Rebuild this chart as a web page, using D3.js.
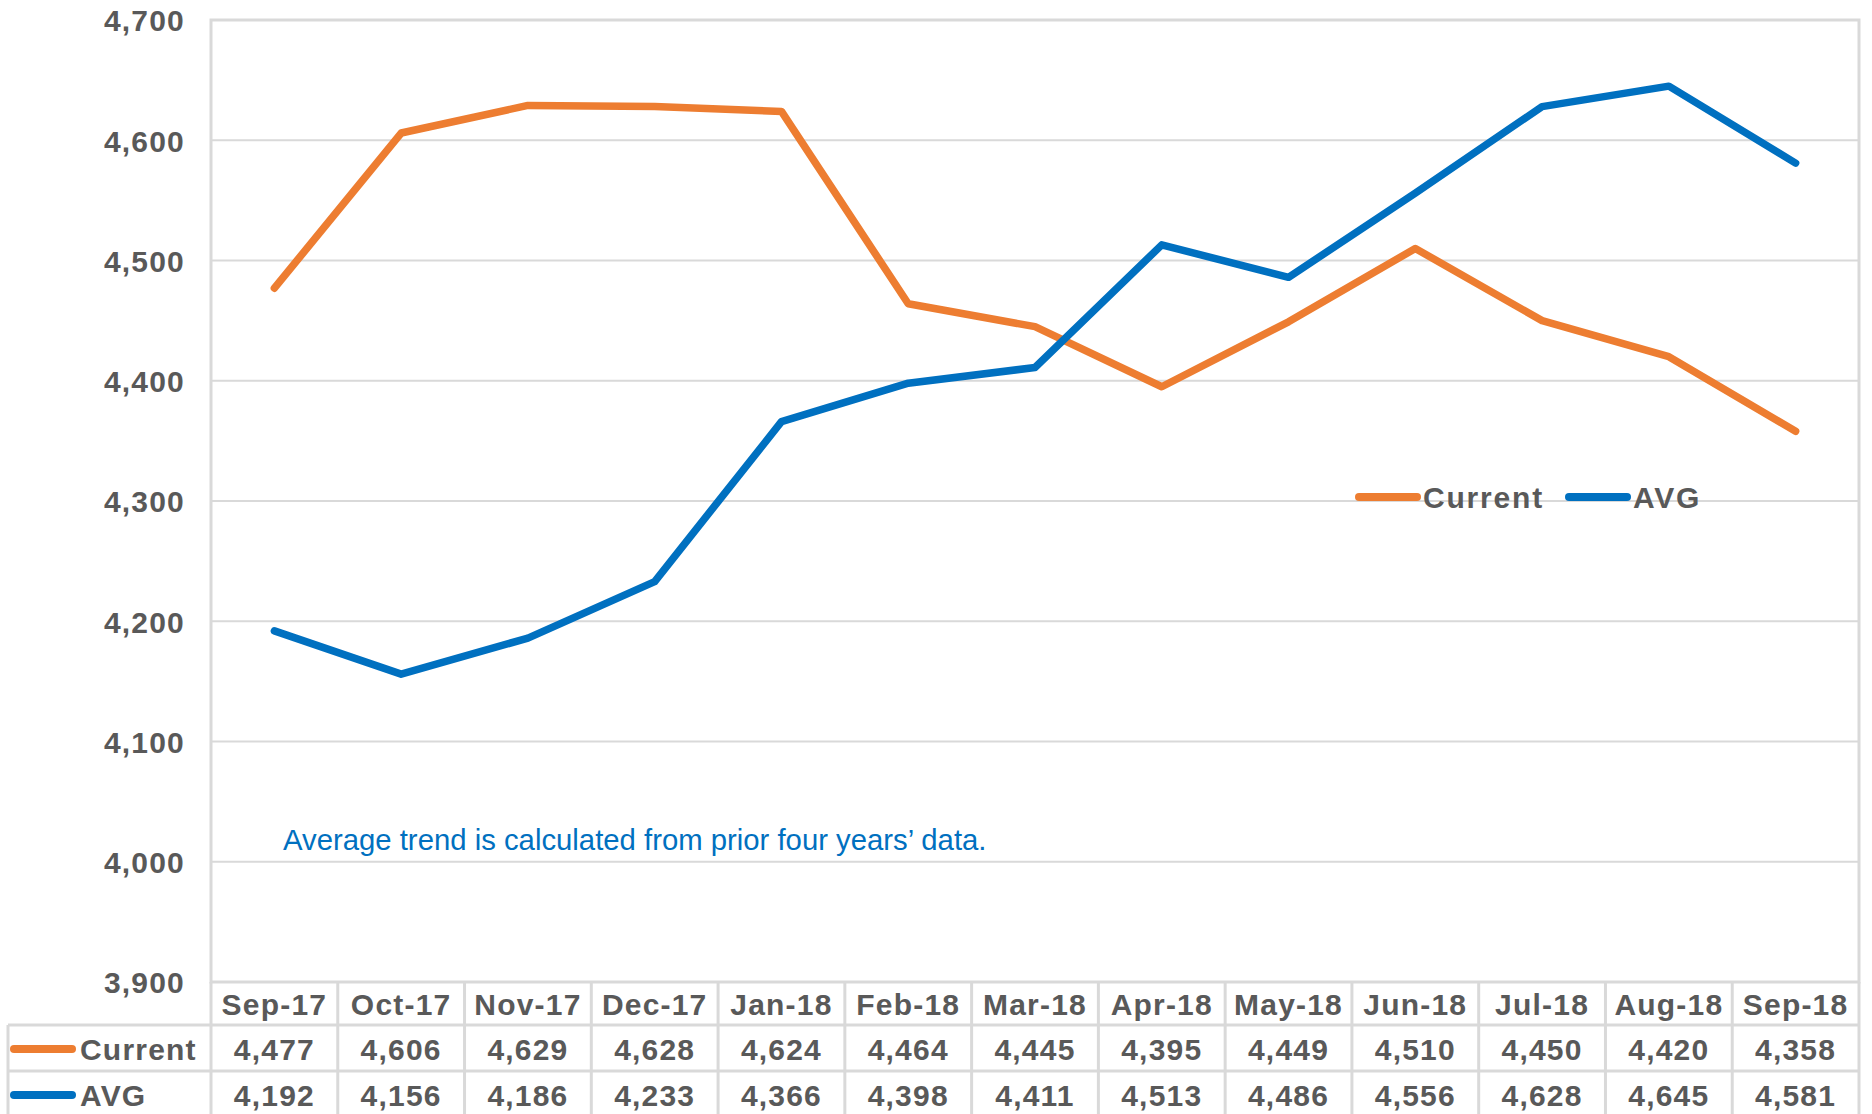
<!DOCTYPE html>
<html>
<head>
<meta charset="utf-8">
<script src="https://cdn.jsdelivr.net/npm/d3@7"></script>
<style>
  body { margin: 0; background: #fff; }
  svg text { font-family: "Liberation Sans", Arial, sans-serif; fill: #595959; }
</style>
</head>
<body>
<div id="chart"></div>
<script>
'use strict';

// data
const months = ['Sep-17', 'Oct-17', 'Nov-17', 'Dec-17', 'Jan-18', 'Feb-18', 'Mar-18',
    'Apr-18', 'May-18', 'Jun-18', 'Jul-18', 'Aug-18', 'Sep-18'];
const current = [4477, 4606, 4629, 4628, 4624, 4464, 4445, 4395, 4449, 4510, 4450, 4420, 4358];
const avg = [4192, 4156, 4186, 4233, 4366, 4398, 4411, 4513, 4486, 4556, 4628, 4645, 4581];
const yTicks = [3900, 4000, 4100, 4200, 4300, 4400, 4500, 4600, 4700];
const note = 'Average trend is calculated from prior four years\u2019 data.';

const series = [
    { name: 'Current', values: current, color: '#ED7D31' },
    { name: 'AVG', values: avg, color: '#0070C0' }
];

const W = 1872, H = 1114;
const plot = { left: 211, right: 1859, top: 20, bottom: 982 };
const rowH = [43, 46, 46];   // header, Current, AVG
const tableLeft = 8;
const gridColor = '#D9D9D9';
const fmt = d3.format(',');

let svg = d3.select('#chart').append('svg')
    .attr('width', W)
    .attr('height', H);

let x = d3.scaleBand().domain(months).range([plot.left, plot.right]).padding(0);
let y = d3.scaleLinear().domain([3900, 4700]).range([plot.bottom, plot.top]);
let cx = d => x(d) + x.bandwidth() / 2;

function label(sel) {
    sel.style('font-size', '30px')
        .style('font-weight', 'bold')
        .style('letter-spacing', '1.2px');
}

// gridlines
svg.append('g')
    .selectAll('line')
    .data(yTicks)
    .join('line')
    .attr('x1', plot.left).attr('x2', plot.right)
    .attr('y1', d => y(d)).attr('y2', d => y(d))
    .attr('stroke', gridColor)
    .attr('stroke-width', 2);

// plot frame
svg.append('rect')
    .attr('x', plot.left).attr('y', plot.top)
    .attr('width', plot.right - plot.left).attr('height', plot.bottom - plot.top)
    .attr('fill', 'none')
    .attr('stroke', gridColor)
    .attr('stroke-width', 3);

// y axis labels
let yAxis = svg.append('g')
    .attr('transform', 'translate(' + (plot.left - 26) + ',0)')
    .call(d3.axisLeft(y).tickValues(yTicks).tickFormat(fmt).tickSize(0).tickPadding(0));
yAxis.select('.domain').remove();
yAxis.selectAll('text')
    .call(label)
    .attr('dy', '0.36em');

// note
svg.append('text')
    .attr('x', 283)
    .attr('y', 850)
    .style('font-size', '29.3px')
    .style('fill', '#0070C0')
    .text(note);

// lines
let line = d3.line()
    .x((d, i) => cx(months[i]))
    .y(d => y(d));

svg.append('g')
    .selectAll('path')
    .data(series)
    .join('path')
    .attr('fill', 'none')
    .attr('stroke', d => d.color)
    .attr('stroke-width', 7.5)
    .attr('stroke-linejoin', 'round')
    .attr('stroke-linecap', 'round')
    .attr('d', d => line(d.values));

// legend inside plot
let legendPos = [{ x: 1359, tx: 1423 }, { x: 1569, tx: 1633 }];
let legend = svg.append('g')
    .selectAll('g')
    .data(series)
    .join('g')
    .attr('transform', 'translate(0,497)');
legend.append('line')
    .attr('x1', (d, i) => legendPos[i].x).attr('x2', (d, i) => legendPos[i].x + 58)
    .attr('stroke', d => d.color)
    .attr('stroke-width', 8)
    .attr('stroke-linecap', 'round');
legend.append('text')
    .attr('x', (d, i) => legendPos[i].tx)
    .attr('dy', '0.36em')
    .call(label)
    .style('letter-spacing', '1.8px')
    .text(d => d.name);

// data table
let rowTop = [plot.bottom, plot.bottom + rowH[0], plot.bottom + rowH[0] + rowH[1]];
let tableBottom = rowTop[2] + rowH[2];
let table = svg.append('g');

// horizontal rules
[rowTop[1], rowTop[2], tableBottom].forEach(yy => {
    table.append('line')
        .attr('x1', tableLeft).attr('x2', plot.right)
        .attr('y1', yy).attr('y2', yy);
});
// vertical rules
table.append('line')
    .attr('x1', tableLeft).attr('x2', tableLeft)
    .attr('y1', rowTop[1]).attr('y2', tableBottom);
table.selectAll('.vcol')
    .data(months.concat(['end']))
    .join('line')
    .attr('class', 'vcol')
    .attr('x1', d => d === 'end' ? plot.right : x(d))
    .attr('x2', d => d === 'end' ? plot.right : x(d))
    .attr('y1', plot.bottom).attr('y2', tableBottom);
table.selectAll('line')
    .attr('stroke', gridColor)
    .attr('stroke-width', 3);

// header
table.selectAll('.hdr')
    .data(months)
    .join('text')
    .attr('class', 'hdr')
    .attr('x', d => cx(d))
    .attr('y', rowTop[0] + rowH[0] / 2 + 1)
    .attr('dy', '0.36em')
    .attr('text-anchor', 'middle')
    .call(label)
    .text(d => d);

// series rows
series.forEach((s, r) => {
    let midY = rowTop[r + 1] + rowH[r + 1] / 2 + 1;
    table.append('line')
        .attr('x1', 14).attr('x2', 72)
        .attr('y1', midY).attr('y2', midY)
        .attr('stroke', s.color)
        .attr('stroke-width', 8)
        .attr('stroke-linecap', 'round');
    table.append('text')
        .attr('x', 80)
        .attr('y', midY)
        .attr('dy', '0.36em')
        .call(label)
        .text(s.name);
    table.selectAll('.v' + r)
        .data(s.values)
        .join('text')
        .attr('class', 'v' + r)
        .attr('x', (d, i) => cx(months[i]))
        .attr('y', midY)
        .attr('dy', '0.36em')
        .attr('text-anchor', 'middle')
        .call(label)
        .text(d => fmt(d));
});
</script>
</body>
</html>
